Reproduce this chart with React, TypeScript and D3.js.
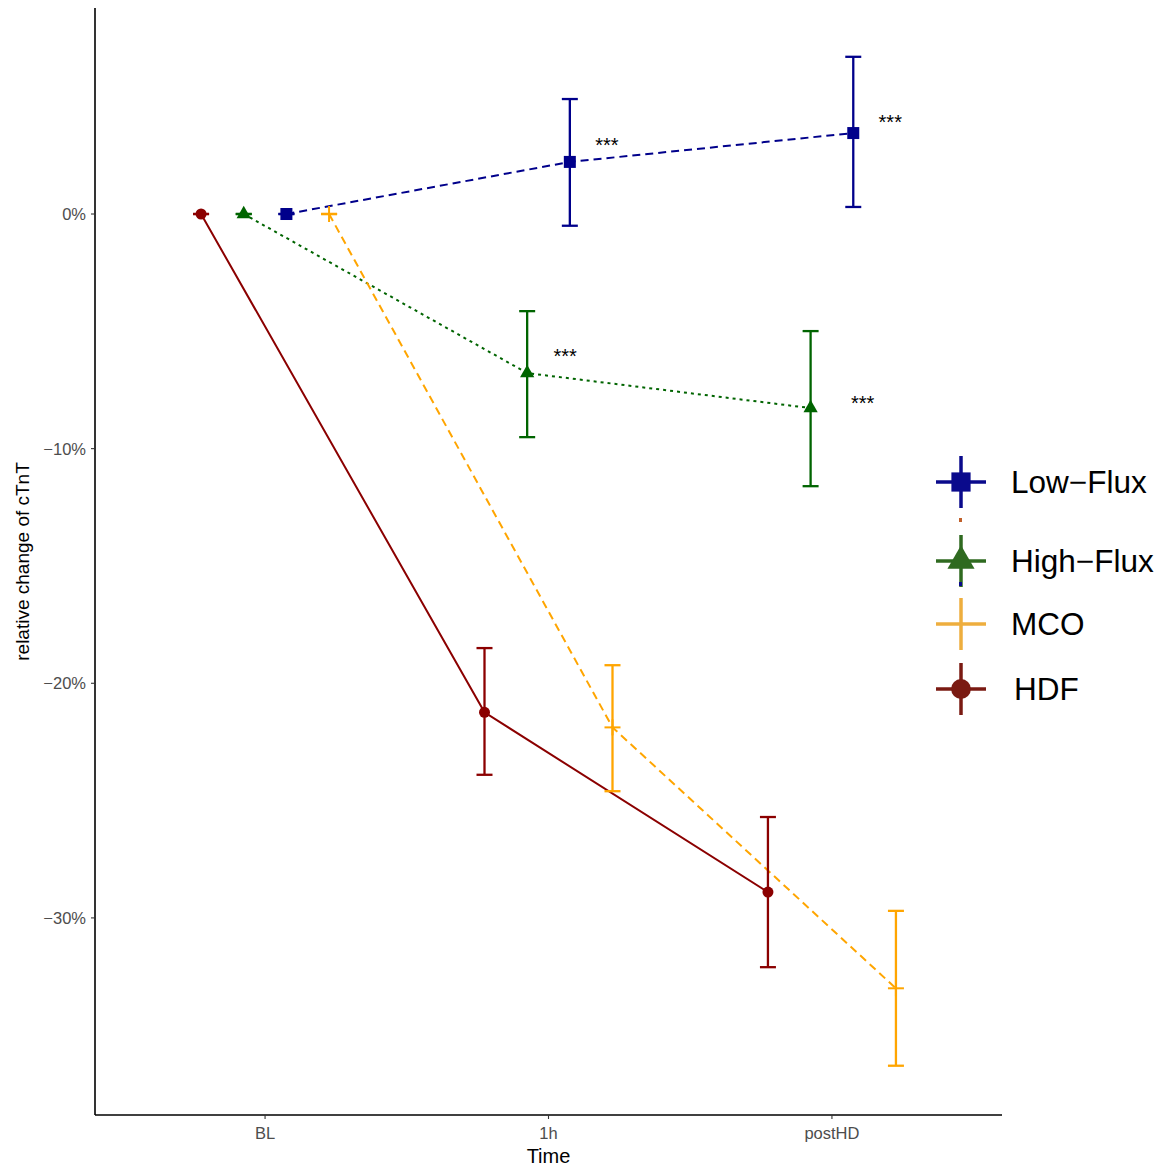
import React from "react";
import * as d3 from "d3";

const times = ["BL", "1h", "postHD"];
const groups = ["HDF", "High-Flux", "Low-Flux", "MCO"];
const colors: Record<string, string> = { "Low-Flux": "#00008B", "High-Flux": "#006400", MCO: "#FFA500", HDF: "#8B0000" };
const legendColors: Record<string, string> = { "Low-Flux": "#0a0a8c", "High-Flux": "#2f6a20", MCO: "#eeae3e", HDF: "#7a1a12" };
const dashes: Record<string, string> = { "Low-Flux": "8,5", "High-Flux": "3,4", MCO: "8,5", HDF: "none" };
const legendOrder = ["Low-Flux", "High-Flux", "MCO", "HDF"];

const meanLow = [0, 2.22, 3.45];
const lowerLow = [0, -0.5, 0.3];
const upperLow = [0, 4.9, 6.7];
const meanHigh = [0, -6.78, -8.27];
const lowerHigh = [0, -9.51, -11.6];
const upperHigh = [0, -4.14, -4.99];
const meanMCO = [0, -21.88, -33.0];
const lowerMCO = [0, -24.6, -36.3];
const upperMCO = [0, -19.23, -29.7];
const meanHDF = [0, -21.24, -28.9];
const lowerHDF = [0, -23.9, -32.1];
const upperHDF = [0, -18.5, -25.7];

const yTicks = [0, -10, -20, -30];
const sigLabels = [
  { group: "Low-Flux", time: "1h", y: 3.11, dx: 37 },
  { group: "Low-Flux", time: "postHD", y: 4.09, dx: 37 },
  { group: "High-Flux", time: "1h", y: -5.88, dx: 38 },
  { group: "High-Flux", time: "postHD", y: -7.89, dx: 52 },
];

const series: Record<string, { mean: number[]; lo: number[]; hi: number[] }> = {
  "Low-Flux": { mean: meanLow, lo: lowerLow, hi: upperLow },
  "High-Flux": { mean: meanHigh, lo: lowerHigh, hi: upperHigh },
  MCO: { mean: meanMCO, lo: lowerMCO, hi: upperMCO },
  HDF: { mean: meanHDF, lo: lowerHDF, hi: upperHDF },
};

function Marker({ g, x, y, c, scale = 1 }: { g: string; x: number; y: number; c: string; scale?: number }) {
  if (g === "Low-Flux") {
    const s = 12 * scale;
    return <rect x={x - s / 2} y={y - s / 2} width={s} height={s} fill={c} />;
  }
  if (g === "High-Flux") {
    const s = 14 * scale;
    const tri = d3.symbol().type(d3.symbolTriangle).size(s * s * 0.45)();
    return <path d={tri as string} transform={`translate(${x},${y})`} fill={c} />;
  }
  if (g === "HDF") {
    return <circle cx={x} cy={y} r={5.5 * scale} fill={c} />;
  }
  const h = 8 * scale;
  return (
    <g stroke={c} strokeWidth={2 * scale}>
      <line x1={x - h} x2={x + h} y1={y} y2={y} />
      <line x1={x} x2={x} y1={y - h} y2={y + h} />
    </g>
  );
}

export default function App() {
  const W = 1166, H = 1171;
  const left = 95, right = 1002, top = 8, bottom = 1115;
  const x = d3.scalePoint<string>().domain(times).range([left, right]).padding(0.6);
  const y = d3.scaleLinear().domain([-38.4, 8.78]).range([bottom, top]);
  const dodge = d3.scalePoint<string>().domain(groups).range([-64, 64]);
  const px = (g: string, t: string) => (x(t) as number) + (dodge(g) as number);
  const cap = 8;

  return (
    <svg width={W} height={H} style={{ position: "absolute", left: 0, top: 0, background: "#fff" }} fontFamily="Liberation Sans, Arial, sans-serif">
      {/* axes */}
      <line x1={left} x2={left} y1={top} y2={bottom} stroke="#000" strokeWidth={1.6} />
      <line x1={left} x2={right} y1={bottom} y2={bottom} stroke="#000" strokeWidth={1.6} />
      {yTicks.map((v) => (
        <g key={v}>
          <line x1={left - 4} x2={left} y1={y(v)} y2={y(v)} stroke="#333" strokeWidth={1.1} />
          <text x={left - 9} y={y(v)} dy="0.36em" textAnchor="end" fontSize={16.5} fill="#4d4d4d">
            {v === 0 ? "0%" : `\u2212${Math.abs(v)}%`}
          </text>
        </g>
      ))}
      {times.map((t) => (
        <g key={t}>
          <line x1={x(t)} x2={x(t)} y1={bottom} y2={bottom + 4} stroke="#333" strokeWidth={1.1} />
          <text x={x(t)} y={bottom + 24} textAnchor="middle" fontSize={16.5} fill="#4d4d4d">{t}</text>
        </g>
      ))}
      <text x={(left + right) / 2} y={1163} textAnchor="middle" fontSize={20} fill="#000">Time</text>
      <text transform={`translate(29,${(top + bottom) / 2}) rotate(-90)`} textAnchor="middle" fontSize={19} fill="#000">relative change of cTnT</text>

      {/* lines */}
      {groups.map((g) => {
        const line = d3.line<number>().x((_, i) => px(g, times[i])).y((v) => y(v));
        return (
          <path key={g} d={line(series[g].mean) as string} fill="none" stroke={colors[g]} strokeWidth={2} strokeDasharray={dashes[g]} />
        );
      })}
      {/* error bars */}
      {groups.map((g) =>
        times.map((t, i) => {
          const xx = px(g, t);
          const s = series[g];
          return (
            <g key={g + t} stroke={colors[g]} strokeWidth={2.3}>
              <line x1={xx} x2={xx} y1={y(s.lo[i])} y2={y(s.hi[i])} />
              <line x1={xx - cap} x2={xx + cap} y1={y(s.lo[i])} y2={y(s.lo[i])} />
              <line x1={xx - cap} x2={xx + cap} y1={y(s.hi[i])} y2={y(s.hi[i])} />
            </g>
          );
        })
      )}
      {/* markers */}
      {groups.map((g) =>
        times.map((t, i) => <Marker key={g + t} g={g} x={px(g, t)} y={y(series[g].mean[i])} c={colors[g]} />)
      )}
      {/* significance */}
      {sigLabels.map((s, i) => (
        <text key={i} x={px(s.group, s.time) + s.dx} y={y(s.y)} dy="0.55em" textAnchor="middle" fontSize={20} fill="#000">***</text>
      ))}

      {/* legend */}
      {legendOrder.map((g, i) => {
        const cy = [482, 561, 624, 689][i];
        const cx = 961;
        const c = legendColors[g];
        return (
          <g key={g}>
            <line x1={cx} x2={cx} y1={cy - 26} y2={cy + 26} stroke={c} strokeWidth={3.5} />
            <line x1={cx - 25} x2={cx + 25} y1={cy} y2={cy} stroke={c} strokeWidth={3.5} />
            {g !== "MCO" && <Marker g={g} x={cx} y={cy} c={c} scale={g === "High-Flux" ? 1.9 : g === "HDF" ? 1.8 : 1.6} />}
            <text x={g === "HDF" ? 1014 : 1011} y={cy} dy="0.36em" fontSize={31.5} fill="#000">{g === "Low-Flux" ? "Low\u2212Flux" : g === "High-Flux" ? "High\u2212Flux" : g}</text>
          </g>
        );
      })}
      <rect x={959} y={518} width={3} height={4} fill="#c0602a" />
      <rect x={959} y={582} width={3} height={4} fill="#0a0a8c" />
    </svg>
  );
}
